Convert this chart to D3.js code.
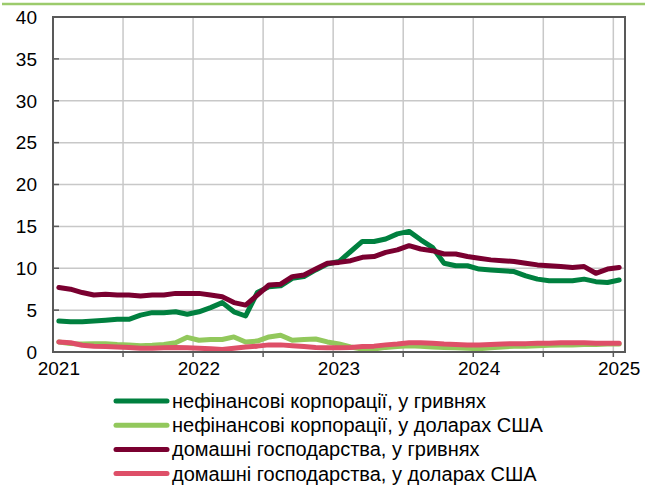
<!DOCTYPE html>
<html>
<head>
<meta charset="utf-8">
<script src="https://cdn.jsdelivr.net/npm/d3@7"></script>
<style>
  body { margin: 0; background: #fff; }
  svg text { font-family: "Liberation Sans", Arial, sans-serif; fill: #000; }
</style>
</head>
<body>
<svg id="chart" width="654" height="486"></svg>
<script>
// monthly values, Jan 2021 .. Jan 2025
const years = ["2021", "2022", "2023", "2024", "2025"];
const yTicks = [0, 5, 10, 15, 20, 25, 30, 35, 40];

const corpUah = [3.7, 3.6, 3.6, 3.7, 3.8, 3.9, 3.9, 4.4, 4.7, 4.7, 4.8, 4.5,
  4.8, 5.3, 5.9, 4.8, 4.3, 7.1, 7.8, 7.9, 8.8, 9.0, 9.8, 10.5,
  10.8, 12.0, 13.2, 13.2, 13.5, 14.1, 14.4, 13.4, 12.5, 10.6, 10.3, 10.3,
  9.9, 9.8, 9.7, 9.6, 9.1, 8.7, 8.5, 8.5, 8.5, 8.7, 8.4, 8.3,
  8.6];
const corpUsd = [1.2, 1.0, 0.95, 1.0, 1.0, 0.9, 0.85, 0.75, 0.8, 0.9, 1.1, 1.75,
  1.4, 1.5, 1.5, 1.8, 1.2, 1.3, 1.8, 2.0, 1.4, 1.5, 1.55, 1.2,
  0.95, 0.6, 0.35, 0.35, 0.55, 0.65, 0.75, 0.7, 0.6, 0.55, 0.5, 0.45,
  0.4, 0.5, 0.6, 0.7, 0.7, 0.75, 0.8, 0.85, 0.85, 0.9, 0.9, 0.95,
  0.95];
const hhUah = [7.7, 7.5, 7.1, 6.8, 6.9, 6.8, 6.8, 6.7, 6.8, 6.8, 7.0, 7.0,
  7.0, 6.8, 6.6, 5.9, 5.6, 6.8, 8.0, 8.1, 9.0, 9.2, 9.9, 10.6,
  10.7, 10.9, 11.3, 11.4, 11.9, 12.2, 12.7, 12.3, 12.1, 11.7, 11.7, 11.4,
  11.2, 11.0, 10.9, 10.8, 10.6, 10.4, 10.3, 10.2, 10.1, 10.2, 9.4, 9.9,
  10.1];
const hhUsd = [1.2, 1.1, 0.8, 0.7, 0.65, 0.6, 0.55, 0.45, 0.45, 0.5, 0.55, 0.5,
  0.45, 0.4, 0.3, 0.45, 0.6, 0.7, 0.85, 0.85, 0.75, 0.65, 0.55, 0.5,
  0.5, 0.55, 0.65, 0.7, 0.85, 0.95, 1.1, 1.1, 1.05, 0.95, 0.9, 0.85,
  0.85, 0.9, 0.95, 1.0, 1.0, 1.05, 1.05, 1.1, 1.1, 1.1, 1.05, 1.05,
  1.05];

const seriesNames = [
  "нефінансові корпорації, у гривнях",
  "нефінансові корпорації, у доларах США",
  "домашні господарства, у гривнях",
  "домашні господарства, у доларах США"
];
const seriesColors = ["#00803f", "#92c85c", "#7a0030", "#de4f68"];
const seriesValues = [corpUah, corpUsd, hhUah, hhUsd];

const months = d3.range(corpUah.length);

const svg = d3.select("#chart");
const plotLeft = 53, plotRight = 625, plotTop = 17, plotBottom = 352;

// top rule
svg.append("line")
  .attr("x1", 2).attr("x2", 645).attr("y1", 4).attr("y2", 4)
  .attr("stroke", "#9ccb6c").attr("stroke-width", 2.5);

const x = d3.scaleBand().domain(months).range([plotLeft, plotRight]).paddingInner(0).paddingOuter(0);
const y = d3.scaleLinear().domain([0, 40]).range([plotBottom, plotTop]);
const cx = i => x(i) + x.bandwidth() / 2;

// grid
const grid = svg.append("g").attr("stroke", "#c8c8c8").attr("stroke-width", 1.5);
grid.selectAll(".hg").data(yTicks.slice(1, -1)).join("line")
  .attr("x1", plotLeft).attr("x2", plotRight)
  .attr("y1", d => y(d)).attr("y2", d => y(d));
const halfYears = months.filter(m => m % 6 === 0 && m > 0);
grid.selectAll(".vg").data(halfYears).join("line")
  .attr("x1", d => x(d)).attr("x2", d => x(d))
  .attr("y1", plotTop).attr("y2", plotBottom);

// ticks
const ticks = svg.append("g").attr("stroke", "#595959").attr("stroke-width", 1.5);
ticks.selectAll(".yt").data(yTicks).join("line")
  .attr("x1", plotLeft).attr("x2", plotLeft + 6)
  .attr("y1", d => y(d)).attr("y2", d => y(d));
ticks.selectAll(".xt").data(halfYears).join("line")
  .attr("x1", d => x(d)).attr("x2", d => x(d))
  .attr("y1", plotBottom).attr("y2", plotBottom + 5);

// lines
const line = d3.line().x((d, i) => cx(i)).y(d => y(d));
svg.append("g").selectAll("path").data(seriesValues).join("path")
  .attr("d", line)
  .attr("fill", "none")
  .attr("stroke", (d, i) => seriesColors[i])
  .attr("stroke-width", 5)
  .attr("stroke-linejoin", "round")
  .attr("stroke-linecap", "round");

// frame
svg.append("rect")
  .attr("x", plotLeft).attr("y", plotTop)
  .attr("width", plotRight - plotLeft).attr("height", plotBottom - plotTop)
  .attr("fill", "none").attr("stroke", "#595959").attr("stroke-width", 2);

// axis labels
svg.append("g").selectAll("text").data(yTicks).join("text")
  .attr("x", 37).attr("y", d => y(d)).attr("dy", "0.36em")
  .attr("text-anchor", "end").attr("font-size", 19)
  .text(d => d);

svg.append("g").selectAll("text").data(years).join("text")
  .attr("x", (d, i) => cx(i * 12)).attr("y", 375)
  .attr("text-anchor", "middle").attr("font-size", 19)
  .text(d => d);

// legend
const legend = svg.append("g").selectAll("g").data(seriesNames).join("g")
  .attr("transform", (d, i) => `translate(0, ${401 + i * 24.2})`);
legend.append("line")
  .attr("x1", 116).attr("x2", 167)
  .attr("stroke", (d, i) => seriesColors[i])
  .attr("stroke-width", 5).attr("stroke-linecap", "round");
legend.append("text")
  .attr("x", 172).attr("dy", "0.35em").attr("font-size", 20)
  .text(d => d);
</script>
</body>
</html>
